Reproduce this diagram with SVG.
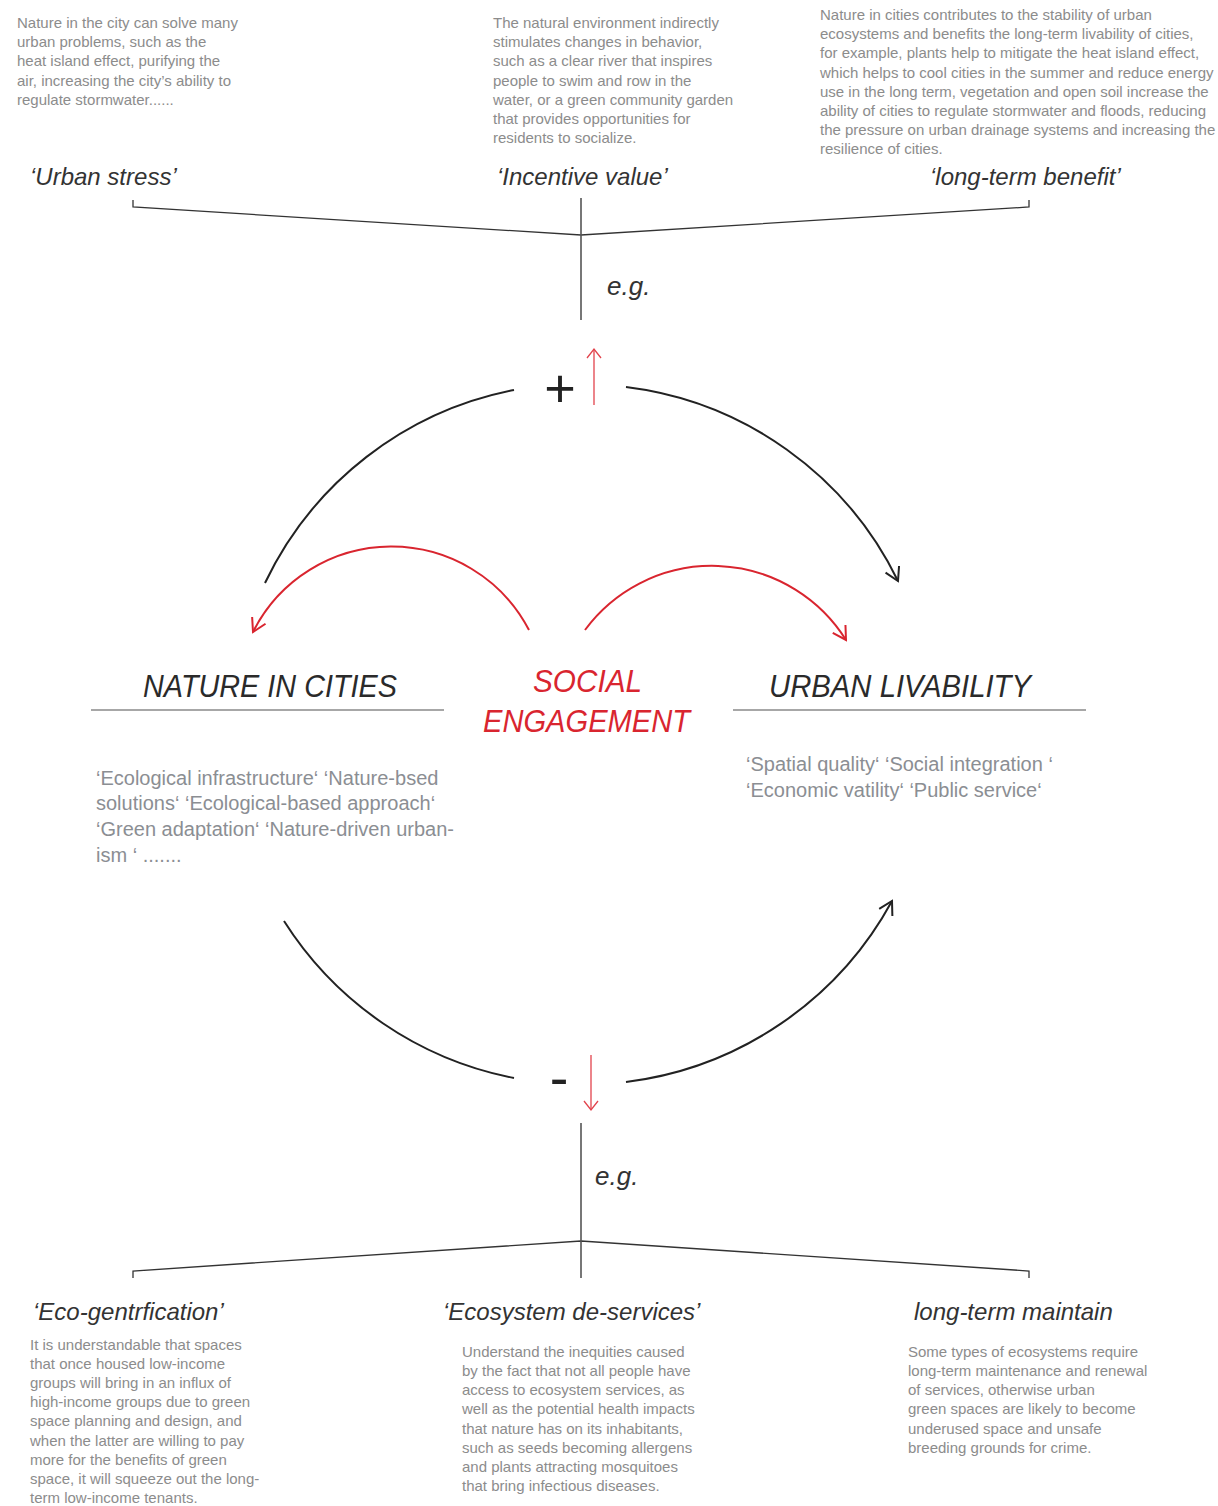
<svg xmlns="http://www.w3.org/2000/svg" width="1218" height="1506" viewBox="0 0 1218 1506">
<defs>
<style>
.para{font-family:"Liberation Sans",Arial,sans-serif;font-size:15px;fill:#8c8c8c}
.head{font-family:"Liberation Sans",Arial,sans-serif;font-size:24px;font-style:italic;fill:#333}
.eg{font-family:"Liberation Sans",Arial,sans-serif;font-size:26px;font-style:italic;fill:#333}
.title{font-family:"Liberation Sans Narrow","Liberation Sans",Arial,sans-serif;font-size:32px;font-style:italic;fill:#2a2a2a}
.red{fill:#d9252f}
.list{font-family:"Liberation Sans",Arial,sans-serif;font-size:20px;fill:#8b8e93}
.sign{font-family:"Liberation Sans",Arial,sans-serif;fill:#222}
.brk{fill:none;stroke:#333;stroke-width:1.3}
.vert{fill:none;stroke:#555;stroke-width:1.6}
.arc{fill:none;stroke:#222;stroke-width:2}
.rarc{fill:none;stroke:#d9252f;stroke-width:2}
.rline{fill:none;stroke:#e2434c;stroke-width:1.3}
.uline{fill:none;stroke:#8a8a8a;stroke-width:1.3}
</style>
<marker id="ahBlack" viewBox="-15 -9 17 18" markerWidth="17" markerHeight="18" refX="0" refY="0" orient="auto" markerUnits="userSpaceOnUse">
<path d="M-13,-7.5 L0,0 L-13,7.5" fill="none" stroke="#222" stroke-width="2"/>
</marker>
<marker id="ahRed" viewBox="-15 -9 17 18" markerWidth="17" markerHeight="18" refX="0" refY="0" orient="auto" markerUnits="userSpaceOnUse">
<path d="M-13,-7.5 L0,0 L-13,7.5" fill="none" stroke="#d9252f" stroke-width="2"/>
</marker>
<marker id="ahThin" viewBox="-11 -8 13 16" markerWidth="13" markerHeight="16" refX="0" refY="0" orient="auto" markerUnits="userSpaceOnUse">
<path d="M-9,-7 L0,0 L-9,7" fill="none" stroke="#e2434c" stroke-width="1.3"/>
</marker>
</defs>
<rect width="1218" height="1506" fill="#fff"/>

<g id="connectors">
<polyline class="brk" points="133,200 133,207 581,235 1029,207 1029,200"/>
<line class="vert" x1="581" y1="198" x2="581" y2="320"/>
<polyline class="brk" points="133,1278 133,1271 581,1241 1029,1271 1029,1278"/>
<line class="vert" x1="581" y1="1123" x2="581" y2="1278"/>
<path class="arc" d="M265,583 A350,350 0 0 1 514,390"/>
<path class="arc" d="M626,387 A350,350 0 0 1 898,581" marker-end="url(#ahBlack)"/>
<path class="arc" d="M284,921 A352,352 0 0 0 514,1078"/>
<path class="arc" d="M626,1082 A352,352 0 0 0 892,901" marker-end="url(#ahBlack)"/>
<path class="rarc" d="M529,630 A155,155 0 0 0 253,632" marker-end="url(#ahRed)"/>
<path class="rarc" d="M585,630 A158,158 0 0 1 846,640" marker-end="url(#ahRed)"/>
<line class="rline" x1="594" y1="405" x2="594" y2="349" marker-end="url(#ahThin)"/>
<line class="rline" x1="591" y1="1055" x2="591" y2="1110" marker-end="url(#ahThin)"/>
</g>

<g id="node-urban-stress">
<text class="para" x="17" y="28">Nature in the city can solve many</text>
<text class="para" x="17" y="47">urban problems, such as the</text>
<text class="para" x="17" y="66">heat island effect, purifying the</text>
<text class="para" x="17" y="86">air, increasing the city’s ability to</text>
<text class="para" x="17" y="105">regulate stormwater......</text>
<text class="head" x="30" y="185">‘Urban stress’</text>
</g>

<g id="node-incentive-value">
<text class="para" x="493" y="28">The natural environment indirectly</text>
<text class="para" x="493" y="47">stimulates changes in behavior,</text>
<text class="para" x="493" y="66">such as a clear river that inspires</text>
<text class="para" x="493" y="86">people to swim and row in the</text>
<text class="para" x="493" y="105">water, or a green community garden</text>
<text class="para" x="493" y="124">that provides opportunities for</text>
<text class="para" x="493" y="143">residents to socialize.</text>
<text class="head" x="497" y="185">‘Incentive value’</text>
</g>

<g id="node-long-term-benefit">
<text class="para" x="820" y="20">Nature in cities contributes to the stability of urban</text>
<text class="para" x="820" y="39">ecosystems and benefits the long-term livability of cities,</text>
<text class="para" x="820" y="58">for example, plants help to mitigate the heat island effect,</text>
<text class="para" x="820" y="78">which helps to cool cities in the summer and reduce energy</text>
<text class="para" x="820" y="97">use in the long term, vegetation and open soil increase the</text>
<text class="para" x="820" y="116">ability of cities to regulate stormwater and floods, reducing</text>
<text class="para" x="820" y="135">the pressure on urban drainage systems and increasing the</text>
<text class="para" x="820" y="154">resilience of cities.</text>
<text class="head" x="930" y="185">‘long-term benefit’</text>
</g>

<g id="label-eg-top">
<text class="eg" x="607" y="295">e.g.</text>
</g>

<g id="label-plus">
<text class="sign" x="560" y="407" font-size="54" text-anchor="middle">+</text>
</g>

<g id="node-nature-in-cities">
<text class="title" x="143" y="697" textLength="254" lengthAdjust="spacingAndGlyphs">NATURE IN CITIES</text>
<line class="uline" x1="91" y1="710" x2="444" y2="710"/>
<text class="list" x="96" y="785">‘Ecological infrastructure‘  ‘Nature-bsed</text>
<text class="list" x="96" y="810">solutions‘  ‘Ecological-based approach‘</text>
<text class="list" x="96" y="836">‘Green adaptation‘ ‘Nature-driven urban-</text>
<text class="list" x="96" y="862">ism ‘ .......</text>
</g>

<g id="node-social-engagement">
<text class="title red" x="533" y="692" textLength="109" lengthAdjust="spacingAndGlyphs">SOCIAL</text>
<text class="title red" x="483" y="732" textLength="207" lengthAdjust="spacingAndGlyphs">ENGAGEMENT</text>
</g>

<g id="node-urban-livability">
<text class="title" x="769" y="697" textLength="262" lengthAdjust="spacingAndGlyphs">URBAN LIVABILITY</text>
<line class="uline" x1="733" y1="710" x2="1086" y2="710"/>
<text class="list" x="746" y="771">‘Spatial quality‘  ‘Social integration ‘</text>
<text class="list" x="746" y="797">‘Economic vatility‘ ‘Public service‘</text>
</g>

<g id="label-minus">
<text class="sign" x="559" y="1097" font-size="56" text-anchor="middle">-</text>
</g>

<g id="label-eg-bottom">
<text class="eg" x="595" y="1185">e.g.</text>
</g>

<g id="node-eco-gentrification">
<text class="head" x="33" y="1320">‘Eco-gentrfication’</text>
<text class="para" x="30" y="1350">It is understandable that spaces</text>
<text class="para" x="30" y="1369">that once housed low-income</text>
<text class="para" x="30" y="1388">groups will bring in an influx of</text>
<text class="para" x="30" y="1407">high-income groups due to green</text>
<text class="para" x="30" y="1426">space planning and design, and</text>
<text class="para" x="30" y="1446">when the latter are willing to pay</text>
<text class="para" x="30" y="1465">more for the benefits of green</text>
<text class="para" x="30" y="1484">space, it will squeeze out the long-</text>
<text class="para" x="30" y="1503">term low-income tenants.</text>
</g>

<g id="node-ecosystem-de-services">
<text class="head" x="443" y="1320">‘Ecosystem de-services’</text>
<text class="para" x="462" y="1357">Understand the inequities caused</text>
<text class="para" x="462" y="1376">by the fact that not all people have</text>
<text class="para" x="462" y="1395">access to ecosystem services, as</text>
<text class="para" x="462" y="1414">well as the potential health impacts</text>
<text class="para" x="462" y="1434">that nature has on its inhabitants,</text>
<text class="para" x="462" y="1453">such as seeds becoming allergens</text>
<text class="para" x="462" y="1472">and plants attracting mosquitoes</text>
<text class="para" x="462" y="1491">that bring infectious diseases.</text>
</g>

<g id="node-long-term-maintain">
<text class="head" x="914" y="1320" font-size="24.5">long-term maintain</text>
<text class="para" x="908" y="1357">Some types of ecosystems require</text>
<text class="para" x="908" y="1376">long-term maintenance and renewal</text>
<text class="para" x="908" y="1395">of services, otherwise urban</text>
<text class="para" x="908" y="1414">green spaces are likely to become</text>
<text class="para" x="908" y="1434">underused space and unsafe</text>
<text class="para" x="908" y="1453">breeding grounds for crime.</text>
</g>
</svg>
